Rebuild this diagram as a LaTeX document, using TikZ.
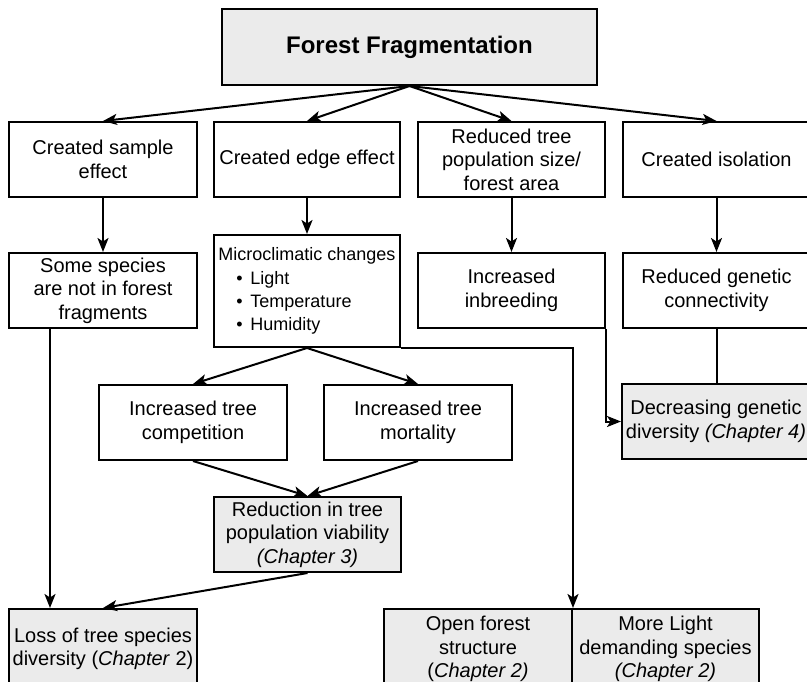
\documentclass[tikz,border=0pt]{standalone}
\usepackage{fontspec}
\setmainfont{Liberation Sans}
\usetikzlibrary{arrows.meta}
\definecolor{boxgray}{RGB}{235,235,235}
\begin{document}
\begin{tikzpicture}[x=1pt,y=-1pt,
  box/.style={draw=black, line width=2pt, fill=white, align=center, inner sep=0pt,
    minimum width=188pt, minimum height=75pt,
    font=\fontsize{20}{23.5}\selectfont},
  graybox/.style={box, fill=boxgray},
  arr/.style={line width=2pt, -{Stealth[length=14pt,width=11pt,inset=3.5pt]}},
  conn/.style={line width=2pt}]
\useasboundingbox (0,0) rectangle (807,681);
\clip (0,0) rectangle (807,681);

\node[graybox, minimum width=375pt, minimum height=76pt,
  font=\fontsize{24}{27}\selectfont\bfseries] (top) at (409.5,47) {Forest Fragmentation};

\node[box] (A) at (103,159.5) {Created sample\\effect};
\node[box, minimum width=186pt] (B) at (307,159.5) {Created edge effect};
\node[box, minimum width=187pt] (C) at (511.5,159.5) {Reduced tree\\population size/\\forest area};
\node[box, minimum width=187pt] (D) at (716.5,159.5) {Created isolation};

\node[box] (some) at (103,290.5) {Some species\\are not in forest\\fragments};
\node[box, minimum width=186pt, minimum height=112pt, align=left,
  font=\fontsize{18}{23.3}\selectfont] (micro) at (307,291)
  {Microclimatic changes\\
   \makebox[32pt][l]{\hspace{18pt}•}Light\\
   \makebox[32pt][l]{\hspace{18pt}•}Temperature\\
   \makebox[32pt][l]{\hspace{18pt}•}Humidity};
\node[box, minimum width=187pt] (inbreed) at (511.5,290.5) {Increased\\inbreeding};
\node[box, minimum width=187pt] (genconn) at (716.5,290.5) {Reduced genetic\\connectivity};

\node[box] (comp) at (193,422.5) {Increased tree\\competition};
\node[box] (mort) at (418,422.5) {Increased tree\\mortality};
\node[graybox] (decgen) at (716,421.5) {Decreasing genetic\\diversity \textit{(Chapter 4)}};

\node[graybox, minimum width=187pt] (reduct) at (307.5,534.5)
  {Reduction in tree\\population viability\\\textit{(Chapter 3)}};

\node[graybox, minimum height=80pt] (loss) at (103,649)
  {Loss of tree species\\diversity (\textit{Chapter} 2)};
\node[graybox, minimum height=80pt] (openf) at (478,649)
  {Open forest\\structure\\(\textit{Chapter 2)}};
\node[graybox, minimum width=187pt, minimum height=80pt] (light) at (665.5,649)
  {More Light\\demanding species\\\textit{(Chapter 2)}};

% connectors
\draw[arr] (top.south) -- (A.north);
\draw[arr] (top.south) -- (B.north);
\draw[arr] (top.south) -- (C.north);
\draw[arr] (top.south) -- (D.north);

\draw[arr] (A.south) -- (some.north);
\draw[arr] (B.south) -- (micro.north);
\draw[arr] (C.south) -- (inbreed.north);
\draw[arr] (D.south) -- (genconn.north);

\draw[arr] ([xshift=42pt]some.south west) -- ([xshift=42pt]loss.north west);
\draw[arr] (micro.south) -- (comp.north);
\draw[arr] (micro.south) -- (mort.north);
\draw[arr] (comp.south) -- (reduct.north);
\draw[arr] (mort.south) -- (reduct.north);
\draw[arr] (reduct.south) -- (loss.north);

\draw[arr] (micro.south east) -| (openf.north east);
\draw[arr] (inbreed.south east) |- (decgen.west);
\draw[conn] (genconn.south) -- (decgen.north -| genconn.south);
\end{tikzpicture}
\end{document}
